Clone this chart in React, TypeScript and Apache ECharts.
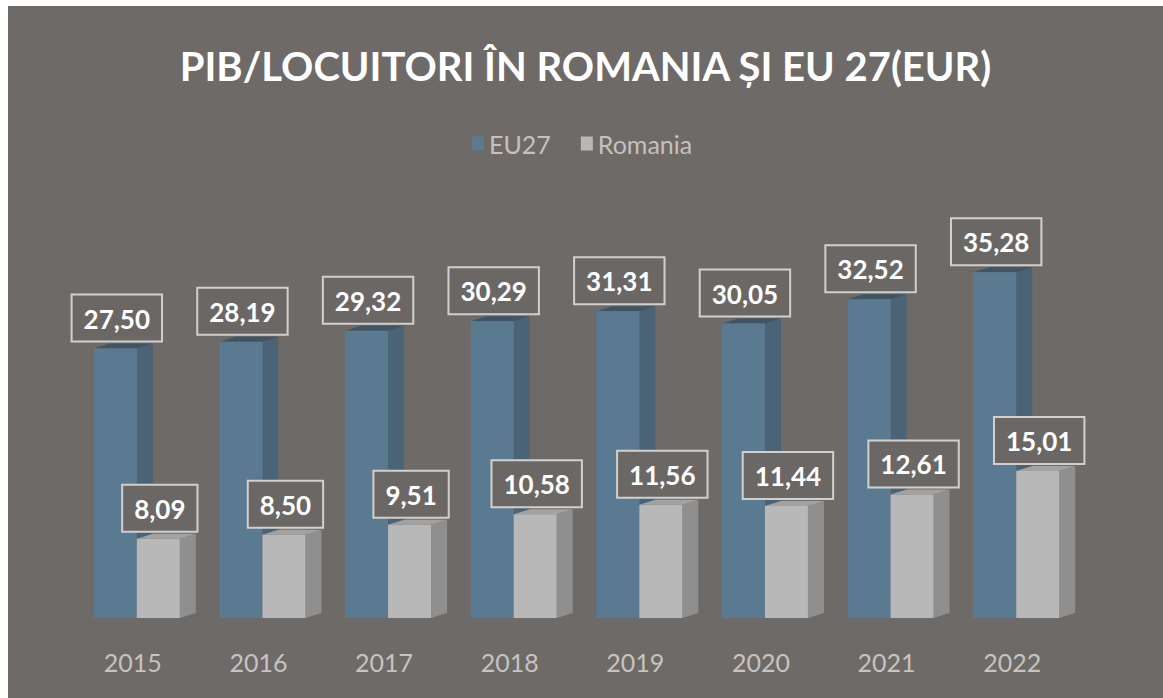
import React, { useEffect, useRef } from "react";
import * as echarts from "echarts";

const categories = ["2015", "2016", "2017", "2018", "2019", "2020", "2021", "2022"];
const eu27Values = [27.5, 28.19, 29.32, 30.29, 31.31, 30.05, 32.52, 35.28];
const romaniaValues = [8.09, 8.5, 9.51, 10.58, 11.56, 11.44, 12.61, 15.01];
const seriesNames = ["EU27", "Romania"];
const titleText = "PIB/LOCUITORI ÎN ROMANIA ȘI EU 27(EUR)";

const BG = "#6e6a67";
const FRONT_W = 43;
const DEPTH_X = 16;
const DEPTH_Y = 5;
const FONT = "Lato, 'Open Sans', sans-serif";

const fmt = (v: number) => v.toFixed(2).replace(".", ",");

function makeRenderItem(frontOffset: number, labelDx: number, front: string, side: string, top: string) {
  return (params: any, api: any) => {
    const idx = api.value(0);
    const val = api.value(1);
    const pTop = api.coord([idx, val]);
    const pBase = api.coord([idx, 0]);
    const cx = pTop[0];
    const x0 = cx + frontOffset;
    const x1 = x0 + FRONT_W;
    const yT = pTop[1];
    const yB = pBase[1];
    return {
      type: "group",
      children: [
        {
          type: "polygon",
          shape: { points: [[x1, yT], [x1 + DEPTH_X, yT - DEPTH_Y], [x1 + DEPTH_X, yB - DEPTH_Y], [x1, yB]] },
          style: { fill: side },
        },
        {
          type: "polygon",
          shape: { points: [[x0, yT], [x1, yT], [x1 + DEPTH_X, yT - DEPTH_Y], [x0 + DEPTH_X, yT - DEPTH_Y]] },
          style: { fill: top },
        },
        {
          type: "rect",
          shape: { x: x0, y: yT, width: FRONT_W, height: yB - yT },
          style: { fill: front },
        },
        {
          type: "text",
          x: cx + labelDx,
          y: yT - 8,
          style: {
            text: fmt(val),
            fill: "#ffffff",
            fontSize: 26,
            fontWeight: "bold",
            fontFamily: FONT,
            align: "center",
            verticalAlign: "bottom",
            backgroundColor: "#6b6764",
            borderColor: "#d2d0ce",
            borderWidth: 2,
            padding: [10, 11, 9, 11],
          },
        },
      ],
    };
  };
}

export default function App() {
  const ref = useRef<HTMLDivElement>(null);
  useEffect(() => {
    if (!ref.current) return;
    const chart = echarts.init(ref.current, null, { renderer: "svg" });
    const option: any = {
      animation: false,
      backgroundColor: BG,
      title: {
        text: titleText,
        left: "center",
        top: 35,
        textStyle: {
          color: "#ffffff",
          fontSize: 40,
          fontWeight: "bold",
          fontFamily: FONT,
        },
      },
      legend: {
        top: 120,
        left: 459,
        itemWidth: 12,
        itemHeight: 14,
        itemGap: 30,
        icon: "rect",
        textStyle: { color: "#c4c1be", fontSize: 25, fontFamily: FONT },
        data: [
          { name: seriesNames[0], itemStyle: { color: "#5a7a92" } },
          { name: seriesNames[1], itemStyle: { color: "#b8b8b9" } },
        ],
      },
      grid: { left: 62, right: 88, top: 220, bottom: 80 },
      xAxis: {
        type: "category",
        data: categories,
        boundaryGap: true,
        axisLine: { show: false },
        axisTick: { show: false },
        axisLabel: {
          color: "#c6c3c0",
          fontSize: 25,
          margin: 31,
          fontFamily: FONT,
        },
      },
      yAxis: {
        type: "value",
        min: 0,
        max: 40,
        show: false,
        splitLine: { show: false },
      },
      series: [
        {
          name: seriesNames[0],
          type: "custom",
          itemStyle: { color: "#5a7a92" },
          renderItem: makeRenderItem(-39, -16, "#5a7a92", "#4a6377", "#3f5566"),
          encode: { x: 0, y: 1 },
          data: eu27Values.map((v, i) => [i, v]),
          z: 2,
        },
        {
          name: seriesNames[1],
          type: "custom",
          itemStyle: { color: "#b8b8b9" },
          renderItem: makeRenderItem(4, 27, "#b8b8b9", "#8f8f90", "#a2a2a2"),
          encode: { x: 0, y: 1 },
          data: romaniaValues.map((v, i) => [i, v]),
          z: 3,
        },
      ],
    };
    chart.setOption(option);
    return () => chart.dispose();
  }, []);
  return (
    <div style={{ position: "fixed", left: 0, top: 0, width: 1163, height: 698, background: "#ffffff" }}>
      <div ref={ref} style={{ position: "absolute", left: 8, top: 6, width: 1155, height: 692 }} />
    </div>
  );
}
